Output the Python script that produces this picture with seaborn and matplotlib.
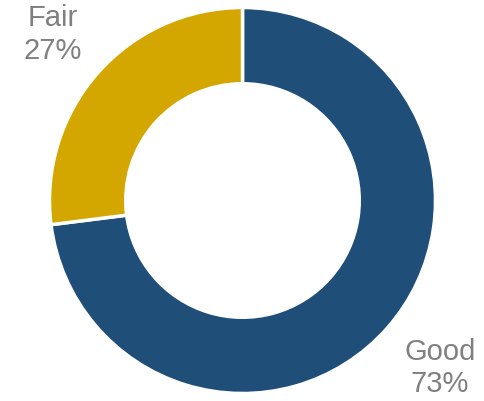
import matplotlib
matplotlib.use("Agg")
import matplotlib.pyplot as plt
import seaborn as sns

sns.set_style("white")
plt.rcParams["font.family"] = ["Liberation Sans", "DejaVu Sans"]

categories = ["Good", "Fair"]
shares = [73, 27]
colors = ["#1F4E79", "#D4A600"]

fig = plt.figure(figsize=(4.85, 4.01), dpi=100)
ax = fig.add_axes([0, 0, 1, 1])

wedges, _ = ax.pie(shares, colors=colors, startangle=90, counterclock=False,
                   radius=1.0, wedgeprops=dict(width=0.395, edgecolor="white", linewidth=2.5))

# place labels outside the ring
label_pos = {"Fair": (-0.985, 0.86), "Good": (1.023, -0.868)}
for cat, val in zip(categories, shares):
    x, y = label_pos[cat]
    ax.text(x, y, f"{cat}\n{val}%", ha="center", va="center",
            fontsize=21, color="#808080", linespacing=1.2)

ax.set_xlim(-242.5 / 193, 242.5 / 193)
ax.set_ylim(-200.5 / 193, 200.5 / 193)
ax.set_aspect("auto")
ax.axis("off")

fig.savefig("out.png", dpi=100)
